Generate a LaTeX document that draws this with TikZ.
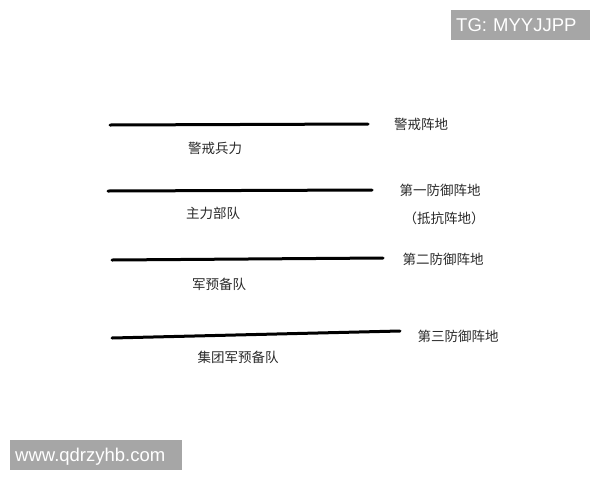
\documentclass[tikz,border=0pt]{standalone}
\usepackage{fontspec}
\setmainfont{Liberation Sans}
\newfontfamily\cjk{Noto Sans CJK SC}
\definecolor{txtgray}{HTML}{2A2A2A}
\definecolor{wmgray}{HTML}{A6A6A6}
\begin{document}
\begin{tikzpicture}[x=1pt,y=-1pt,
  lbl/.style={font=\cjk\fontsize{13.5}{15}\selectfont, text=txtgray, inner sep=0pt},
  front/.style={line width=3pt, black, line cap=round},
  wm/.style={fill=wmgray, text=white, font=\fontsize{18.5}{20}\selectfont, inner ysep=0pt, inner xsep=5pt, anchor=north west, text depth=0pt}]
\useasboundingbox[fill=white] (0,0) rectangle (600,480);
% lines
\coordinate (l1a) at (110,125); \coordinate (l1b) at (368,124);
\coordinate (l2a) at (108,191); \coordinate (l2b) at (372,190);
\coordinate (l3a) at (112,260); \coordinate (l3b) at (383,258);
\coordinate (l4a) at (112,338); \coordinate (l4b) at (400,331);
\draw[front] (l1a) -- (l1b);
\draw[front] (l2a) -- (l2b);
\draw[front] (l3a) -- (l3b);
\draw[front] (l4a) -- (l4b);
% right labels
\node[lbl] (r1) at (421,124) {警戒阵地};
\node[lbl] (r2) at (440,190) {第一防御阵地};
\node[lbl] (r2b) at (444,218) {（抵抗阵地）};
\node[lbl] (r3) at (443,259) {第二防御阵地};
\node[lbl] (r4) at (458,336) {第三防御阵地};
% below labels
\node[lbl] (b1) at (215,148) {警戒兵力};
\node[lbl] (b2) at (213,213) {主力部队};
\node[lbl] (b3) at (219,284) {军预备队};
\node[lbl] (b4) at (238,357) {集团军预备队};
% watermarks
\node[wm, minimum width=139pt, minimum height=30pt, text width=129pt, align=left] (wm1) at (451,10) {TG: MYYJJPP};
\node[wm, minimum width=172pt, minimum height=30pt, text width=162pt, align=left] (wm2) at (10,440) {www.qdrzyhb.com};
\end{tikzpicture}
\end{document}
